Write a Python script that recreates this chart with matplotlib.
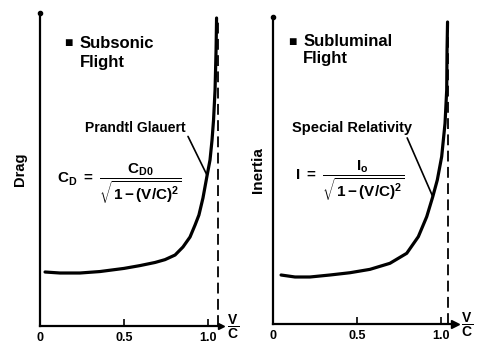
import matplotlib
matplotlib.use("Agg")
import matplotlib.pyplot as plt

plt.rcParams['font.family'] = ['Liberation Sans', 'DejaVu Sans']
plt.rcParams['font.weight'] = 'bold'
plt.rcParams['mathtext.fontset'] = 'custom'
plt.rcParams['mathtext.rm'] = 'Liberation Sans:bold'
plt.rcParams['mathtext.it'] = 'Liberation Sans:bold'
plt.rcParams['mathtext.bf'] = 'Liberation Sans:bold'
plt.rcParams['mathtext.sf'] = 'Liberation Sans:bold'
plt.rcParams['mathtext.default'] = 'bf'

# ---- data (x = V/C, y = arbitrary units 0..10) ----
drag_x = [0.030, 0.119, 0.238, 0.357, 0.500, 0.595, 0.685, 0.744, 0.804, 0.851,
          0.893, 0.923, 0.946, 0.970, 0.994, 1.012, 1.024, 1.033, 1.042, 1.048, 1.051]
drag_y = [1.725, 1.693, 1.693, 1.740, 1.840, 1.930, 2.030, 2.120, 2.268, 2.524,
          2.843, 3.227, 3.546, 4.089, 4.792, 5.304, 5.942, 6.581, 7.540, 8.818, 9.840]

inertia_x = [0.048, 0.131, 0.220, 0.339, 0.458, 0.577, 0.696, 0.796, 0.865, 0.915,
             0.951, 0.978, 1.004, 1.024, 1.034, 1.036, 1.039]
inertia_y = [1.596, 1.531, 1.531, 1.596, 1.670, 1.780, 1.977, 2.303, 2.844, 3.495,
             4.147, 4.691, 5.450, 6.537, 7.622, 8.925, 9.837]

tick_vals = [0, 0.5, 1.0]
tick_labels = ['0', '0.5', '1.0']

left_asym = 1.06
right_asym = 1.04

W, H = 485, 356
fig = plt.figure(figsize=(W / 100, H / 100), dpi=100)


def px_axes(x0, x1, ybot, ytop):
    return fig.add_axes([x0 / W, (H - ybot) / H, (x1 - x0) / W, (ybot - ytop) / H])


def style(ax, xmax, arrow_ms):
    ax.set_xlim(0, xmax)
    ax.set_ylim(0, 10)
    for s in ['top', 'right']:
        ax.spines[s].set_visible(False)
    for s in ['left', 'bottom']:
        ax.spines[s].set_linewidth(1.6)
    ax.set_yticks([])
    ax.set_xticks(tick_vals)
    ax.set_xticklabels(tick_labels, fontsize=9, fontweight='bold')
    ax.tick_params(axis='x', direction='in', length=5, width=1.2, pad=4)
    ax.set_facecolor('none')
    ax.plot([0], [1], marker='o', ms=3, color='black', transform=ax.transAxes, clip_on=False)
    ax.plot([1], [0], marker='>', ms=arrow_ms, color='black', transform=ax.transAxes,
            clip_on=False)


# ---------------- left panel ----------------
axL = px_axes(40, 221, 326, 13)
style(axL, (221 - 40) / 168, 4)
axL.plot(drag_x, drag_y, color='black', lw=2.3, solid_capstyle='round',
         solid_joinstyle='round')
axL.plot([left_asym, left_asym], [0, 9.8], color='black', lw=1.3, ls=(0, (6, 3)))
axL.set_ylabel('Drag', fontsize=10.5, fontweight='bold', labelpad=9)
axL.text(0.167, 9.04, '■', fontsize=10, ha='center', va='center')
axL.text(0.238, 9.04, 'Subsonic', fontsize=12, ha='left', va='center')
axL.text(0.238, 8.43, 'Flight', fontsize=12, ha='left', va='center')
axL.annotate('Prandtl Glauert', xy=(0.994, 4.82), xytext=(0.565, 6.33),
             fontsize=10, ha='center', va='center',
             arrowprops=dict(arrowstyle='-', lw=1.2, color='black',
                             shrinkA=0, shrinkB=0, relpos=(1.02, 0.0)))
axL.text(0.47, 4.55, r'$C_D\ =\ \dfrac{C_{D0}}{\sqrt{1-(V/C)^2}}$', fontsize=11,
         ha='center', va='center')
fig.text(233 / W, 1 - 327 / H, r'$\dfrac{V}{C}$', fontsize=10, ha='center', va='center')

# ---------------- right panel ----------------
axR = px_axes(273, 455, 324, 17)
style(axR, (455 - 273) / 168, 6)
axR.plot(inertia_x, inertia_y, color='black', lw=2.3, solid_capstyle='round',
         solid_joinstyle='round')
axR.plot([right_asym, right_asym], [0, 9.8], color='black', lw=1.3, ls=(0, (6, 3)))
axR.set_ylabel('Inertia', fontsize=11, fontweight='bold', labelpad=6)
axR.text(0.113, 9.19, '■', fontsize=10, ha='center', va='center')
axR.text(0.179, 9.19, 'Subluminal', fontsize=12, ha='left', va='center')
axR.text(0.179, 8.66, 'Flight', fontsize=12, ha='left', va='center')
axR.annotate('Special Relativity', xy=(0.951, 4.15), xytext=(0.47, 6.38),
             fontsize=10.5, ha='center', va='center',
             arrowprops=dict(arrowstyle='-', lw=1.2, color='black',
                             shrinkA=0, shrinkB=0, relpos=(0.95, 0.0)))
axR.text(0.46, 4.65, r'$I\ =\ \dfrac{I_o}{\sqrt{1-(V/C)^2}}$', fontsize=11,
         ha='center', va='center')
fig.text(467 / W, 1 - 325 / H, r'$\dfrac{V}{C}$', fontsize=10, ha='center', va='center')

fig.savefig('out.png', dpi=100)
